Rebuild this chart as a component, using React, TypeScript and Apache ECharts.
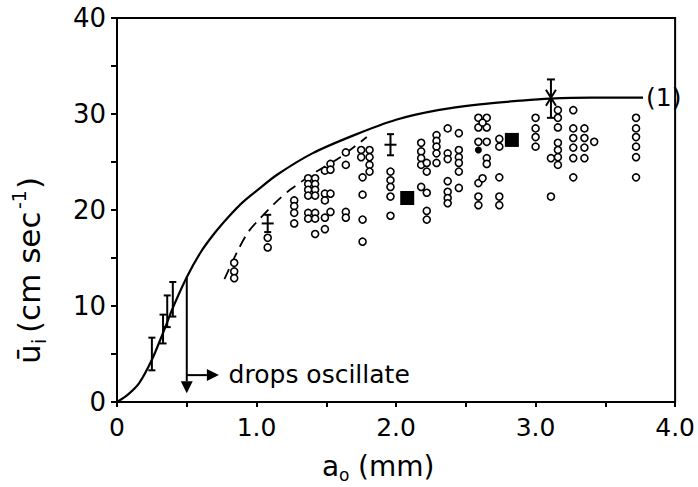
import React, { useEffect, useRef } from "react";
import * as echarts from "echarts";

// Theory curve (1)
const curveX = [0, 0.08, 0.16, 0.25, 0.33, 0.4, 0.5, 0.6, 0.7, 0.8, 0.9, 1.0, 1.15, 1.4, 1.7, 2.0, 2.3, 2.6, 2.9, 3.1, 3.4, 3.77];
const curveY = [0, 0.8, 2.0, 4.4, 7.2, 9.8, 13.0, 15.6, 17.6, 19.3, 20.8, 22.0, 23.7, 25.9, 27.8, 29.4, 30.4, 31.0, 31.4, 31.6, 31.7, 31.7];

// Dashed curve
const dashX = [0.77, 0.86, 0.94, 1.03, 1.13, 1.24, 1.43, 1.6, 1.79];
const dashY = [12.8, 15.6, 17.7, 19.2, 20.7, 22.1, 24.0, 25.5, 27.6];

// Open circles (a0 mm, u cm/s)
const circleX = [
  0.84, 0.84, 0.84,
  1.08, 1.08,
  1.27, 1.27, 1.27, 1.27,
  1.37, 1.37, 1.37, 1.37, 1.37, 1.37,
  1.42, 1.42, 1.42, 1.42, 1.42, 1.42, 1.42,
  1.49, 1.49, 1.49, 1.49, 1.49,
  1.53, 1.53, 1.53, 1.53,
  1.64, 1.64, 1.64, 1.64,
  1.75, 1.75,
  1.81, 1.81, 1.81, 1.81,
  1.76, 1.76, 1.76, 1.76,
  1.96, 1.96, 1.96, 1.96, 1.96,
  2.18, 2.18, 2.18, 2.18, 2.18,
  2.22, 2.22, 2.22, 2.22, 2.22,
  2.29, 2.29, 2.29, 2.29, 2.29,
  2.37, 2.37, 2.37, 2.37, 2.37, 2.37, 2.37,
  2.45, 2.45, 2.45, 2.45, 2.45, 2.45,
  2.59, 2.59, 2.59, 2.59, 2.59, 2.59,
  2.65, 2.65, 2.65, 2.65, 2.65,
  2.62, 2.62,
  2.74, 2.74, 2.74, 2.74, 2.74,
  3.0, 3.0, 3.0, 3.0,
  3.16, 3.16, 3.16, 3.16, 3.16, 3.16, 3.16,
  3.11, 3.11,
  3.27, 3.27, 3.27, 3.27, 3.27, 3.27,
  3.35, 3.35, 3.35, 3.35,
  3.42,
  3.72, 3.72, 3.72, 3.72, 3.72, 3.72,
];
const circleY = [
  14.5, 13.6, 12.9,
  17.1, 16.1,
  21.0, 20.4, 19.7, 18.6,
  23.3, 22.7, 22.1, 21.5, 19.7, 19.1,
  23.3, 22.7, 22.1, 21.5, 19.7, 19.1, 17.5,
  24.1, 21.7, 21.0, 19.2, 18.0,
  24.8, 24.2, 21.7, 19.8,
  26.0, 24.7, 19.8, 19.2,
  26.25, 25.5,
  26.25, 25.5, 24.7, 24.0,
  23.4, 21.6, 19.0, 16.7,
  24.0, 23.1, 22.4, 21.4, 19.4,
  27.0, 26.1, 25.4, 24.7, 22.4,
  24.9, 24.0, 21.8, 19.9, 19.0,
  27.8, 27.2, 26.6, 25.9, 24.9,
  28.5, 25.9, 25.3, 23.0, 21.9, 21.25, 20.7,
  28.0, 26.25, 25.5, 24.9, 24.0, 22.3,
  29.6, 28.6, 27.1, 22.8, 21.4, 20.5,
  29.6, 28.6, 27.1, 25.4, 24.8,
  29.1, 23.3,
  27.4, 26.6, 23.4, 21.4, 20.5,
  29.6, 28.5, 27.6, 26.6,
  30.4, 29.6, 28.6, 27.0, 26.25, 25.5, 24.7,
  25.4, 21.4,
  30.4, 28.5, 27.5, 26.5, 25.4, 23.4,
  28.5, 27.5, 26.5, 25.4,
  27.1,
  29.6, 28.5, 27.6, 26.6, 25.5, 23.4,
];

// Filled circle
const dotX = [2.59];
const dotY = [26.25];

// Filled squares
const squareX = [2.08, 2.83];
const squareY = [21.25, 27.3];

// Error-bar markers: x, y, low, high, kind (0 = I bar, 1 = cross, 2 = asterisk)
const barX = [0.25, 0.33, 0.36, 0.40, 1.08, 1.96, 3.11];
const barY = [5.0, 7.6, 9.4, 10.7, 18.6, 26.8, 31.7];
const barLow = [3.3, 6.1, 7.8, 8.9, 17.7, 25.7, 29.6];
const barHigh = [6.7, 9.1, 11.1, 12.5, 19.5, 27.9, 33.6];
const barKind = [0, 0, 0, 0, 1, 1, 2];

// Arrows annotation: start (x,y) -> end (x,y)
const arrowX1 = [0.5, 0.5];
const arrowY1 = [13.0, 2.8];
const arrowX2 = [0.5, 0.73];
const arrowY2 = [0.9, 2.8];

const noteText = "drops oscillate";
const notePos = [0.8, 2.9];

const yTicks = [0, 10, 20, 30, 40];
const xTicks = ["0", "1.0", "2.0", "3.0", "4.0"];

const FONT = "DejaVu Sans";

export default function App() {
  const ref = useRef<HTMLDivElement>(null);
  useEffect(() => {
    document.body.style.margin = "0";
    const chart = echarts.init(ref.current!, null, { renderer: "svg" });

    const circles = circleX.map((x, i) => [x, circleY[i]]);
    const bars = barX.map((x, i) => [x, barY[i], barLow[i], barHigh[i], barKind[i]]);
    const arrows = arrowX1.map((x, i) => [x, arrowY1[i], arrowX2[i], arrowY2[i]]);

    const option: any = {
      animation: false,
      backgroundColor: "#ffffff",
      grid: {
        left: 117, right: 18, top: 18, bottom: 85,
        show: true, borderColor: "#000", borderWidth: 2, backgroundColor: "transparent",
      },
      xAxis: {
        type: "value", min: 0, max: 4, interval: 0.5,
        axisLine: { show: true, onZero: false, lineStyle: { color: "#000", width: 2 } },
        axisTick: { show: true, length: 5, lineStyle: { color: "#000", width: 2 } },
        splitLine: { show: false },
        axisLabel: {
          color: "#000", fontSize: 25, fontFamily: FONT, margin: 13,
          formatter: (v: number) => {
            const idx = Math.round(v * 2);
            if (idx % 2 !== 0) return "";
            return xTicks[idx / 2] ?? "";
          },
        },
      },
      yAxis: {
        type: "value", min: 0, max: 40, interval: 5,
        axisLine: { show: true, onZero: false, lineStyle: { color: "#000", width: 2 } },
        axisTick: { show: true, length: 6, lineStyle: { color: "#000", width: 2 } },
        splitLine: { show: false },
        axisLabel: {
          color: "#000", fontSize: 26, fontFamily: FONT, margin: 11,
          formatter: (v: number) => (yTicks.includes(v) ? String(v) : ""),
        },
      },
      series: [
        {
          type: "line",
          data: curveX.map((x, i) => [x, curveY[i]]),
          smooth: 0.3, showSymbol: false, symbol: "none",
          lineStyle: { color: "#000", width: 2.2 },
          endLabel: { show: true, formatter: "(1)", fontSize: 25, fontFamily: FONT, color: "#000", distance: 3 },
          z: 3,
        },
        {
          type: "line",
          data: dashX.map((x, i) => [x, dashY[i]]),
          smooth: 0.3, showSymbol: false, symbol: "none",
          lineStyle: { color: "#000", width: 1.8, type: [11, 7] },
          z: 3,
        },
        {
          type: "scatter",
          data: circles,
          symbol: "circle", symbolSize: 7,
          itemStyle: { color: "#fff", borderColor: "#000", borderWidth: 1.6, opacity: 1 },
          z: 4,
        },
        {
          type: "scatter",
          data: dotX.map((x, i) => [x, dotY[i]]),
          symbol: "circle", symbolSize: 7,
          itemStyle: { color: "#000", opacity: 1 },
          z: 5,
        },
        {
          type: "scatter",
          data: squareX.map((x, i) => [x, squareY[i]]),
          symbol: "rect", symbolSize: 14,
          itemStyle: { color: "#000", opacity: 1 },
          z: 5,
        },
        {
          type: "custom",
          data: bars,
          z: 6,
          renderItem: (params: any, api: any) => {
            const c = api.coord([api.value(0), api.value(1)]);
            const lo = api.coord([api.value(0), api.value(2)]);
            const hi = api.coord([api.value(0), api.value(3)]);
            const kind = api.value(4);
            const st = { stroke: "#000", lineWidth: 2 };
            const cap = 3.5;
            const children: any[] = [
              { type: "line", shape: { x1: c[0], y1: lo[1], x2: c[0], y2: hi[1] }, style: st },
            ];
            if (kind === 0 || kind === 1) {
              children.push({ type: "line", shape: { x1: c[0] - cap, y1: lo[1], x2: c[0] + cap, y2: lo[1] }, style: st });
              children.push({ type: "line", shape: { x1: c[0] - cap, y1: hi[1], x2: c[0] + cap, y2: hi[1] }, style: st });
            }
            if (kind === 1) {
              children.push({ type: "line", shape: { x1: c[0] - 6, y1: c[1], x2: c[0] + 6, y2: c[1] }, style: st });
            }
            if (kind === 2) {
              children.push({ type: "line", shape: { x1: c[0] - 4, y1: lo[1], x2: c[0] + 4, y2: lo[1] }, style: st });
              children.push({ type: "line", shape: { x1: c[0] - 4, y1: hi[1], x2: c[0] + 4, y2: hi[1] }, style: st });
              children.push({ type: "line", shape: { x1: c[0] - 5, y1: c[1] - 8, x2: c[0] + 5, y2: c[1] + 8 }, style: st });
              children.push({ type: "line", shape: { x1: c[0] + 5, y1: c[1] - 8, x2: c[0] - 5, y2: c[1] + 8 }, style: st });
            }
            return { type: "group", children };
          },
        },
        {
          type: "custom",
          data: arrows,
          z: 6,
          renderItem: (params: any, api: any) => {
            const a = api.coord([api.value(0), api.value(1)]);
            const b = api.coord([api.value(2), api.value(3)]);
            const dx = b[0] - a[0];
            const dy = b[1] - a[1];
            const len = Math.sqrt(dx * dx + dy * dy) || 1;
            const ux = dx / len, uy = dy / len;
            const hl = 12, hw = 6;
            const bx = b[0] - ux * hl, by = b[1] - uy * hl;
            return {
              type: "group",
              children: [
                { type: "line", shape: { x1: a[0], y1: a[1], x2: bx, y2: by }, style: { stroke: "#000", lineWidth: 2 } },
                {
                  type: "polygon",
                  shape: { points: [[b[0], b[1]], [bx - uy * hw, by + ux * hw], [bx + uy * hw, by - ux * hw]] },
                  style: { fill: "#000" },
                },
              ],
            };
          },
        },
        {
          type: "custom",
          data: [notePos],
          z: 6,
          renderItem: (params: any, api: any) => {
            const p = api.coord([api.value(0), api.value(1)]);
            return {
              type: "text",
              x: p[0], y: p[1],
              style: { text: noteText, fill: "#000", font: `25px '${FONT}'`, verticalAlign: "middle", align: "left" },
            };
          },
        },
      ],
      graphic: [
        {
          type: "group",
          x: 388, y: 466,
          children: [
            { type: "text", x: -66, y: 0, style: { text: "a", fill: "#000", font: `28px '${FONT}'`, verticalAlign: "middle", align: "left" } },
            { type: "text", x: -49, y: 9, style: { text: "o", fill: "#000", font: `17px '${FONT}'`, verticalAlign: "middle", align: "left" } },
            { type: "text", x: -30, y: 0, style: { text: "(mm)", fill: "#000", font: `28px '${FONT}'`, verticalAlign: "middle", align: "left" } },
          ],
        },
        {
          type: "group",
          x: 29, y: 364, rotation: Math.PI / 2,
          children: [
            { type: "text", x: 0, y: 0, style: { text: "ū", fill: "#000", font: `31px '${FONT}'`, verticalAlign: "middle", align: "left" } },
            { type: "text", x: 20, y: 10, style: { text: "i", fill: "#000", font: `19px '${FONT}'`, verticalAlign: "middle", align: "left" } },
            { type: "text", x: 31, y: 0, style: { text: "(cm sec", fill: "#000", font: `31px '${FONT}'`, verticalAlign: "middle", align: "left" } },
            { type: "text", x: 155, y: -10, style: { text: "-1", fill: "#000", font: `19px '${FONT}'`, verticalAlign: "middle", align: "left" } },
            { type: "text", x: 175, y: 0, style: { text: ")", fill: "#000", font: `31px '${FONT}'`, verticalAlign: "middle", align: "left" } },
          ],
        },
      ],
    };
    chart.setOption(option);
    return () => chart.dispose();
  }, []);
  return <div ref={ref} style={{ width: 698, height: 487 }} />;
}
